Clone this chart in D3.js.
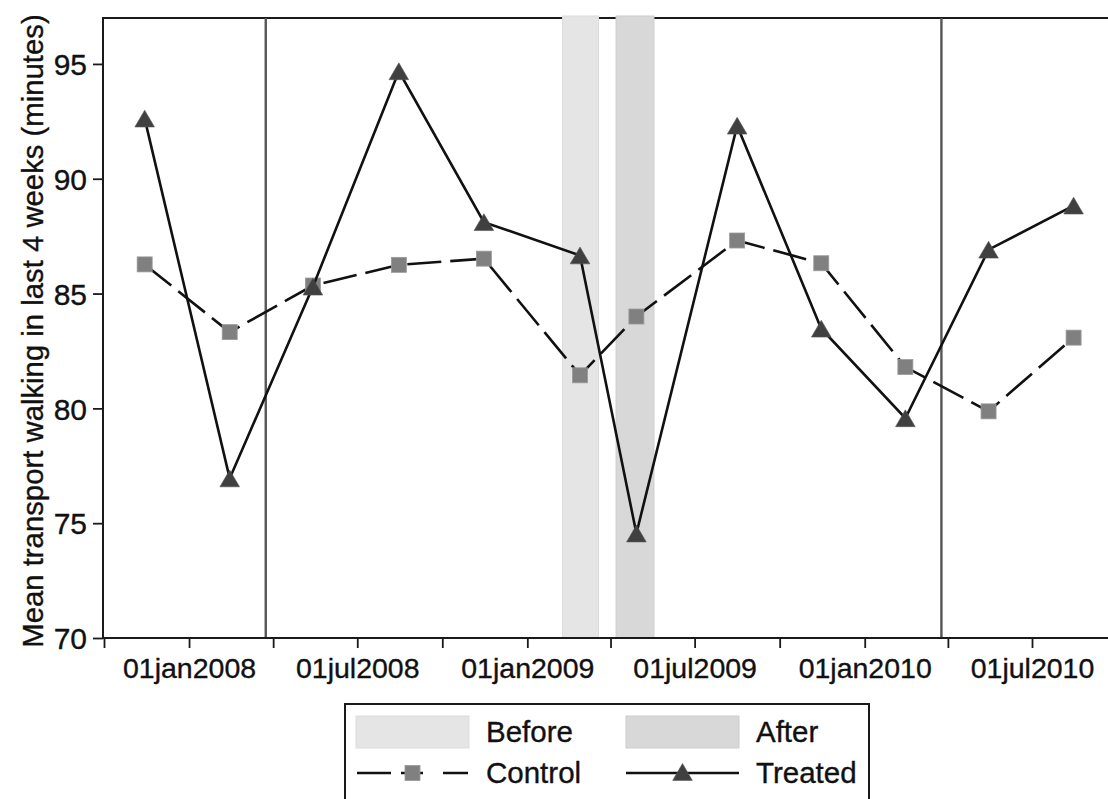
<!DOCTYPE html>
<html>
<head>
<meta charset="utf-8">
<script src="https://cdn.jsdelivr.net/npm/d3@7"></script>
<style>
  html, body { margin: 0; padding: 0; background: #fff; overflow: hidden; }
  svg { display: block; font-family: "Liberation Sans", Arial, Helvetica, sans-serif; }
  text { stroke: #111; stroke-width: 0.35px; }
</style>
</head>
<body>
<svg id="chart" width="1108" height="799"></svg>
<script>
// quarterly survey dates (mid quarter, the two around the intervention are shifted)
const dates = ["2007-11-14", "2008-02-14", "2008-05-14", "2008-08-15", "2008-11-15", "2009-02-27",
               "2009-04-29", "2009-08-16", "2009-11-15", "2010-02-14", "2010-05-15", "2010-08-15"]
const control = [86.27, 83.32, 85.35, 86.25, 86.52, 81.44, 84.0, 87.31, 86.32, 81.80, 79.87, 83.08]
const treated = [92.62, 76.95, 85.30, 94.68, 88.11, 86.66, 74.55, 92.31, 83.47, 79.57, 86.91, 88.83]

const refLines = ["2008-03-24", "2010-03-25"]
const periods = [
  {name: "Before", from: "2009-02-08", to: "2009-03-19", fill: "#e5e5e5", edge: "#dcdcdc"},
  {name: "After",  from: "2009-04-07", to: "2009-05-18", fill: "#d8d8d8", edge: "#cccccc"}
]
const yTicks = [70, 75, 80, 85, 90, 95]
const yTitle = "Mean transport walking in last 4 weeks (minutes)"

const parse = d3.utcParse("%Y-%m-%d")
const svg = d3.select("#chart")

const pTop = 18, pBottom = 638, pLeft = 103, pRight = 1120

// scales
const x = d3.scaleUtc()
  .domain([parse("2007-10-01"), parse("2010-07-01")])
  .range([104, 1032])
const y = d3.scaleLinear().domain([70, 97]).range([pBottom, pTop])

// frame: top line
svg.append("line")
  .attr("x1", pLeft).attr("x2", pRight).attr("y1", pTop).attr("y2", pTop)
  .attr("stroke", "#1a1a1a").attr("stroke-width", 2)

// shaded periods
svg.selectAll("rect.period").data(periods).enter().append("rect")
  .attr("class", "period")
  .attr("x", d => x(parse(d.from)))
  .attr("width", d => x(parse(d.to)) - x(parse(d.from)))
  .attr("y", pTop - 2)
  .attr("height", pBottom - pTop + 2)
  .attr("fill", d => d.fill)
  .attr("stroke", d => d.edge).attr("stroke-width", 1)

// vertical reference lines
svg.selectAll("line.ref").data(refLines).enter().append("line")
  .attr("class", "ref")
  .attr("x1", d => x(parse(d))).attr("x2", d => x(parse(d)))
  .attr("y1", pTop).attr("y2", pBottom)
  .attr("stroke", "#555").attr("stroke-width", 2.4)

// y axis
const yAxis = svg.append("g").attr("transform", `translate(${pLeft},0)`)
  .call(d3.axisLeft(y).tickValues(yTicks).tickSize(10).tickPadding(6))
yAxis.select(".domain").remove()
yAxis.append("line").attr("x1", 0).attr("x2", 0).attr("y1", pTop - 1).attr("y2", pBottom + 1)
  .attr("stroke", "#1a1a1a").attr("stroke-width", 2)
yAxis.selectAll(".tick line").attr("stroke", "#1a1a1a").attr("stroke-width", 1.8)
yAxis.selectAll(".tick text")
  .attr("fill", "#111").style("font-size", "30px")
  .attr("dy", "0.36em")

// x axis: every quarter, labels on jan / jul
const fmt = d3.utcFormat("%d%b%Y")
const xTickVals = d3.utcMonth.every(3).range(parse("2007-10-01"), parse("2010-12-01"))
const xAxis = svg.append("g").attr("transform", `translate(0,${pBottom})`)
  .call(d3.axisBottom(x).tickValues(xTickVals).tickSize(10).tickPadding(6)
    .tickFormat(d => (d.getUTCMonth() % 6 === 0) ? fmt(d).toLowerCase() : ""))
xAxis.select(".domain").remove()
xAxis.append("line").attr("x1", pLeft - 1).attr("x2", pRight).attr("y1", 0).attr("y2", 0)
  .attr("stroke", "#1a1a1a").attr("stroke-width", 2)
xAxis.selectAll(".tick line").attr("stroke", "#1a1a1a").attr("stroke-width", 1.8)
xAxis.selectAll(".tick text")
  .attr("fill", "#111").style("font-size", "28.5px")
  .attr("dy", "0.85em")

// y title
svg.append("text")
  .attr("transform", `translate(43,${(pTop + pBottom) / 2 + 3}) rotate(-90)`)
  .attr("text-anchor", "middle")
  .attr("fill", "#111")
  .style("font-size", "29.3px")
  .text(yTitle)

// series
const ctrl = dates.map((d, i) => ({date: parse(d), v: control[i]}))
const trt = dates.map((d, i) => ({date: parse(d), v: treated[i]}))
const line = d3.line().x(d => x(d.date)).y(d => y(d.v))

const sq = 15
const tri = (cx, cy) => {
  const h = 8.4, w = 9.8
  return `M${cx},${cy - h}L${cx + w},${cy + h}L${cx - w},${cy + h}Z`
}

// control: dashed with grey squares
svg.append("path").datum(ctrl)
  .attr("d", line)
  .attr("fill", "none").attr("stroke", "#111").attr("stroke-width", 2.6)
  .attr("stroke-dasharray", "34,9")
svg.selectAll("rect.ctrl").data(ctrl).enter().append("rect")
  .attr("class", "ctrl")
  .attr("x", d => x(d.date) - sq / 2).attr("y", d => y(d.v) - sq / 2)
  .attr("width", sq).attr("height", sq)
  .attr("fill", "#808080").attr("stroke", "#9a9a9a").attr("stroke-width", 0.8)

// treated: solid with dark triangles
svg.append("path").datum(trt)
  .attr("d", line)
  .attr("fill", "none").attr("stroke", "#111").attr("stroke-width", 2.6)
svg.selectAll("path.trt").data(trt).enter().append("path")
  .attr("class", "trt")
  .attr("d", d => tri(x(d.date), y(d.v)))
  .attr("fill", "#404040").attr("stroke", "#555").attr("stroke-width", 0.6)

// legend
const lg = svg.append("g")
lg.append("rect")
  .attr("x", 345).attr("y", 704).attr("width", 524).attr("height", 120)
  .attr("fill", "#fff").attr("stroke", "#1a1a1a").attr("stroke-width", 2)

const col = [356, 626], swW = 113, textOff = 130
const rowSw = 716, rowLine = 773

periods.forEach((p, i) => {
  lg.append("rect")
    .attr("x", col[i]).attr("y", rowSw).attr("width", swW).attr("height", 32)
    .attr("fill", p.fill).attr("stroke", p.edge).attr("stroke-width", 1)
  lg.append("text")
    .attr("x", col[i] + textOff).attr("y", 742)
    .attr("fill", "#111").style("font-size", "29.5px")
    .text(p.name)
})

// control legend key
lg.append("line")
  .attr("x1", col[0] + 1).attr("x2", col[0] + swW - 1).attr("y1", rowLine).attr("y2", rowLine)
  .attr("stroke", "#111").attr("stroke-width", 2.6)
  .attr("stroke-dasharray", "34,10,22,20,25")
lg.append("rect")
  .attr("x", col[0] + swW / 2 - sq / 2).attr("y", rowLine - sq / 2)
  .attr("width", sq).attr("height", sq)
  .attr("fill", "#808080").attr("stroke", "#9a9a9a").attr("stroke-width", 0.8)
lg.append("text")
  .attr("x", col[0] + textOff).attr("y", 783)
  .attr("fill", "#111").style("font-size", "29.5px")
  .text("Control")

// treated legend key
lg.append("line")
  .attr("x1", col[1]).attr("x2", col[1] + swW).attr("y1", rowLine).attr("y2", rowLine)
  .attr("stroke", "#111").attr("stroke-width", 2.6)
lg.append("path")
  .attr("d", tri(col[1] + swW / 2, rowLine - 1))
  .attr("fill", "#404040").attr("stroke", "#555").attr("stroke-width", 0.6)
lg.append("text")
  .attr("x", col[1] + textOff).attr("y", 783)
  .attr("fill", "#111").style("font-size", "29.5px")
  .text("Treated")
</script>
</body>
</html>
